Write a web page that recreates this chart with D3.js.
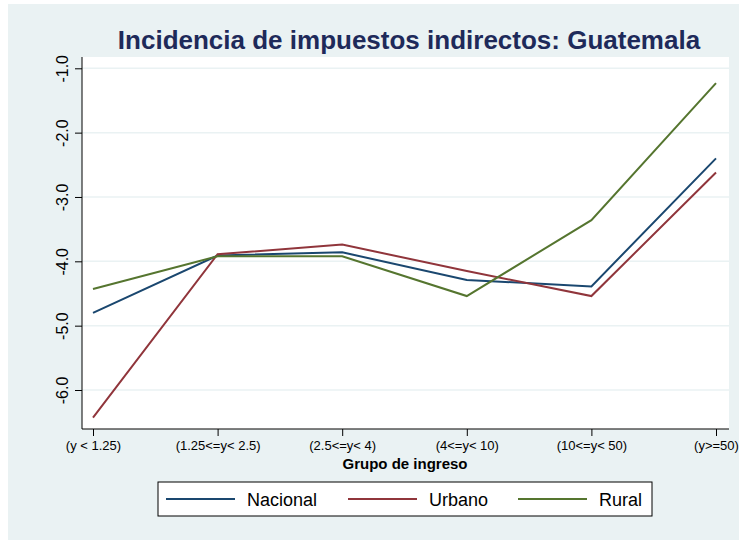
<!DOCTYPE html>
<html>
<head>
<meta charset="utf-8">
<script src="https://cdn.jsdelivr.net/npm/d3@7"></script>
<style>
  body { margin: 0; background: #ffffff; }
  svg { display: block; font-family: "Liberation Sans", Arial, sans-serif; }
</style>
</head>
<body>
<svg id="chart"></svg>
<script>
var width = 739, height = 540;

// income groups on the x axis
var grupos = ["(y < 1.25)", "(1.25<=y< 2.5)", "(2.5<=y< 4)", "(4<=y< 10)", "(10<=y< 50)", "(y>=50)"];

var nacional = [-4.80, -3.91, -3.86, -4.29, -4.39, -2.40];
var urbano   = [-6.43, -3.89, -3.74, -4.15, -4.54, -2.62];
var rural    = [-4.43, -3.92, -3.92, -4.54, -3.36, -1.23];

var yTicks = [-1, -2, -3, -4, -5, -6];

var series = [
    {name: "Nacional", values: nacional, color: "#1a476f"},
    {name: "Urbano", values: urbano, color: "#90353b"},
    {name: "Rural", values: rural, color: "#55752f"}
];

var plot = {left: 82, right: 729, top: 57, bottom: 429};

var svg = d3.select("#chart")
    .attr("width", width)
    .attr("height", height);

// stata style background
svg.append("rect")
    .attr("x", 8).attr("y", 4)
    .attr("width", width - 8).attr("height", height - 4)
    .attr("fill", "#eaf2f3");

svg.append("rect")
    .attr("x", plot.left).attr("y", plot.top)
    .attr("width", plot.right - plot.left).attr("height", plot.bottom - plot.top)
    .attr("fill", "#ffffff");

var xScale = d3.scalePoint()
    .domain(grupos)
    .range([93, 716]);

var yScale = d3.scaleLinear()
    .domain([-6, -1])
    .range([390, 68.3]);

// grid lines
svg.append("g")
    .selectAll("line")
    .data(yTicks)
    .enter()
    .append("line")
    .attr("x1", plot.left).attr("x2", plot.right)
    .attr("y1", d => yScale(d)).attr("y2", d => yScale(d))
    .attr("stroke", "#eaf2f3")
    .attr("stroke-width", 1.5);

// y axis
var yAxis = svg.append("g")
    .attr("transform", `translate(${plot.left},0)`)
    .call(d3.axisLeft(yScale).tickValues(yTicks).tickSize(7)
        .tickFormat(d => d3.format(".1f")(d).replace("\u2212", "-")));
yAxis.select(".domain").attr("d", `M0,${plot.top}V${plot.bottom}`).attr("stroke", "#000");
yAxis.selectAll(".tick text")
    .style("font-size", "16px")
    .attr("fill", "#000")
    .attr("transform", "rotate(-90)")
    .attr("x", 0).attr("dx", 0)
    .attr("y", -14).attr("dy", 0)
    .style("text-anchor", "middle");

// x axis
var xAxis = svg.append("g")
    .attr("transform", `translate(0,${plot.bottom})`)
    .call(d3.axisBottom(xScale).tickSize(7));
xAxis.select(".domain").attr("d", `M${plot.left},0H${plot.right}`).attr("stroke", "#000");
xAxis.selectAll(".tick text")
    .style("font-size", "13px")
    .attr("y", 12)
    .attr("fill", "#000");

svg.append("text")
    .attr("x", 405)
    .attr("y", 469)
    .style("text-anchor", "middle")
    .style("font-size", "15px")
    .style("font-weight", "bold")
    .text("Grupo de ingreso");

svg.append("text")
    .attr("x", 409)
    .attr("y", 49)
    .style("text-anchor", "middle")
    .style("font-size", "26px")
    .style("font-weight", "bold")
    .attr("fill", "#1e2a5a")
    .text("Incidencia de impuestos indirectos: Guatemala");

var line = d3.line()
    .x((d, i) => xScale(grupos[i]))
    .y(d => yScale(d));

svg.append("g")
    .selectAll("path")
    .data(series)
    .enter()
    .append("path")
    .attr("d", d => line(d.values))
    .attr("fill", "none")
    .attr("stroke", d => d.color)
    .attr("stroke-width", 2);

// legend
var legend = svg.append("g");
legend.append("rect")
    .attr("x", 158).attr("y", 482)
    .attr("width", 494).attr("height", 34)
    .attr("fill", "#ffffff")
    .attr("stroke", "#000");

var legendX = [166, 348, 518];
var item = legend.selectAll("g.item")
    .data(series)
    .enter()
    .append("g")
    .attr("transform", (d, i) => `translate(${legendX[i]},499)`);
item.append("line")
    .attr("x1", 0).attr("x2", 69)
    .attr("stroke", d => d.color)
    .attr("stroke-width", 2);
item.append("text")
    .attr("x", 81).attr("y", 6.5)
    .style("font-size", "18px")
    .text(d => d.name);
</script>
</body>
</html>
